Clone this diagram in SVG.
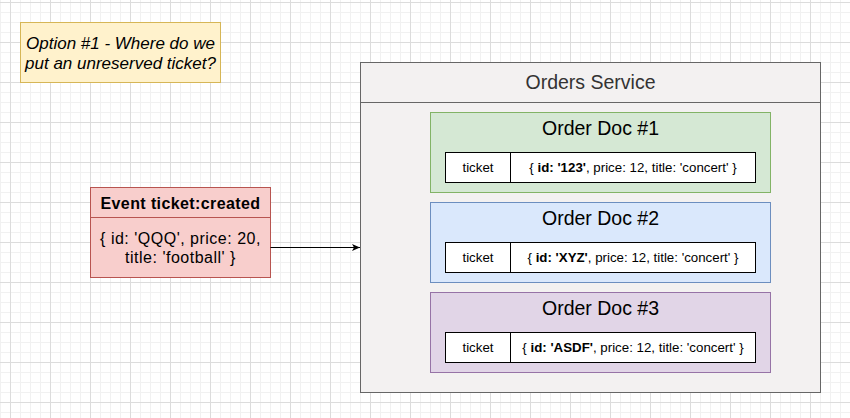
<svg xmlns="http://www.w3.org/2000/svg" width="850" height="418" viewBox="0 0 850 418">
<defs>
<pattern id="minor" width="10" height="10" patternUnits="userSpaceOnUse" x="0" y="2">
<rect x="0" y="0" width="10" height="1" fill="#f1f1f1"/>
<rect x="0" y="0" width="1" height="10" fill="#f1f1f1"/>
</pattern>
<pattern id="major" width="40" height="40" patternUnits="userSpaceOnUse" x="10" y="2">
<rect x="0" y="0" width="40" height="1" fill="#dcdcdc"/>
<rect x="0" y="0" width="1" height="40" fill="#dcdcdc"/>
</pattern>
<marker id="arrow" markerWidth="10" markerHeight="10" refX="8" refY="4" orient="auto" markerUnits="userSpaceOnUse">
<path d="M0,0.5 L8,4 L0,7.5 L2,4 Z" fill="#000"/>
</marker>
<style>
text{font-family:"Liberation Sans",Arial,Helvetica,sans-serif;fill:#000}
.cell{fill:#fff;stroke:#000;stroke-width:1}
.doc-title{font-size:19.5px;text-anchor:middle}
.cell-text{font-size:13.3px;text-anchor:middle}
.b{font-weight:bold}
.ev{font-size:16px;letter-spacing:0.5px;text-anchor:middle}
</style>
</defs>
<rect width="850" height="418" fill="#fff"/>
<rect width="850" height="418" fill="url(#minor)"/>
<rect width="850" height="418" fill="url(#major)"/>

<g id="note">
<rect x="20.5" y="22.5" width="200" height="60" fill="#fff2cc" stroke="#d6b656"/>
<text x="120.5" y="49" font-size="17" font-style="italic" text-anchor="middle">Option #1 - Where do we</text>
<text x="120.5" y="68.5" font-size="17" font-style="italic" text-anchor="middle">put an unreserved ticket?</text>
</g>

<g id="event">
<rect x="90.5" y="187.5" width="180" height="90" fill="#f8cecc" stroke="#b85450"/>
<line x1="90.5" y1="217.5" x2="270.5" y2="217.5" stroke="#b85450"/>
<text class="ev" x="180.5" y="208.5" font-weight="bold" style="letter-spacing:0.4px">Event ticket:created</text>
<text class="ev" x="180.5" y="244">{ id: 'QQQ', price: 20,</text>
<text class="ev" x="180.5" y="262.5">title: 'football' }</text>
</g>

<g id="orders-service">
<rect x="360.5" y="62.5" width="460" height="330" fill="#f3f1f1" stroke="#666666"/>
<line x1="360.5" y1="102.5" x2="820.5" y2="102.5" stroke="#666666"/>
<text x="590.5" y="88.5" font-size="19.5" text-anchor="middle" style="fill:#333333">Orders Service</text>
</g>

<g id="order-doc-1">
<rect x="430.5" y="112.5" width="340" height="80" fill="#d5e8d4" stroke="#82b366"/>
<text class="doc-title" x="600.5" y="135">Order Doc #1</text>
<rect class="cell" x="445.5" y="152.5" width="310" height="30"/>
<line x1="510.5" y1="152.5" x2="510.5" y2="182.5" stroke="#000"/>
<text class="cell-text" x="478" y="172">ticket</text>
<text class="cell-text" x="633" y="172">{ <tspan class="b">id: '123'</tspan>, price: 12, title: 'concert' }</text>
</g>

<g id="order-doc-2">
<rect x="430.5" y="202.5" width="340" height="80" fill="#dae8fc" stroke="#6c8ebf"/>
<text class="doc-title" x="600.5" y="225">Order Doc #2</text>
<rect class="cell" x="445.5" y="242.5" width="310" height="30"/>
<line x1="510.5" y1="242.5" x2="510.5" y2="272.5" stroke="#000"/>
<text class="cell-text" x="478" y="262">ticket</text>
<text class="cell-text" x="633" y="262">{ <tspan class="b">id: 'XYZ'</tspan>, price: 12, title: 'concert' }</text>
</g>

<g id="order-doc-3">
<rect x="430.5" y="292.5" width="340" height="80" fill="#e1d5e7" stroke="#9673a6"/>
<text class="doc-title" x="600.5" y="315">Order Doc #3</text>
<rect class="cell" x="445.5" y="332.5" width="310" height="30"/>
<line x1="510.5" y1="332.5" x2="510.5" y2="362.5" stroke="#000"/>
<text class="cell-text" x="478" y="352">ticket</text>
<text class="cell-text" x="633" y="352">{ <tspan class="b">id: 'ASDF'</tspan>, price: 12, title: 'concert' }</text>
</g>

<g id="connectors">
<line x1="270.5" y1="247.5" x2="360" y2="247.5" stroke="#000" stroke-width="1" marker-end="url(#arrow)"/>
</g>
</svg>
